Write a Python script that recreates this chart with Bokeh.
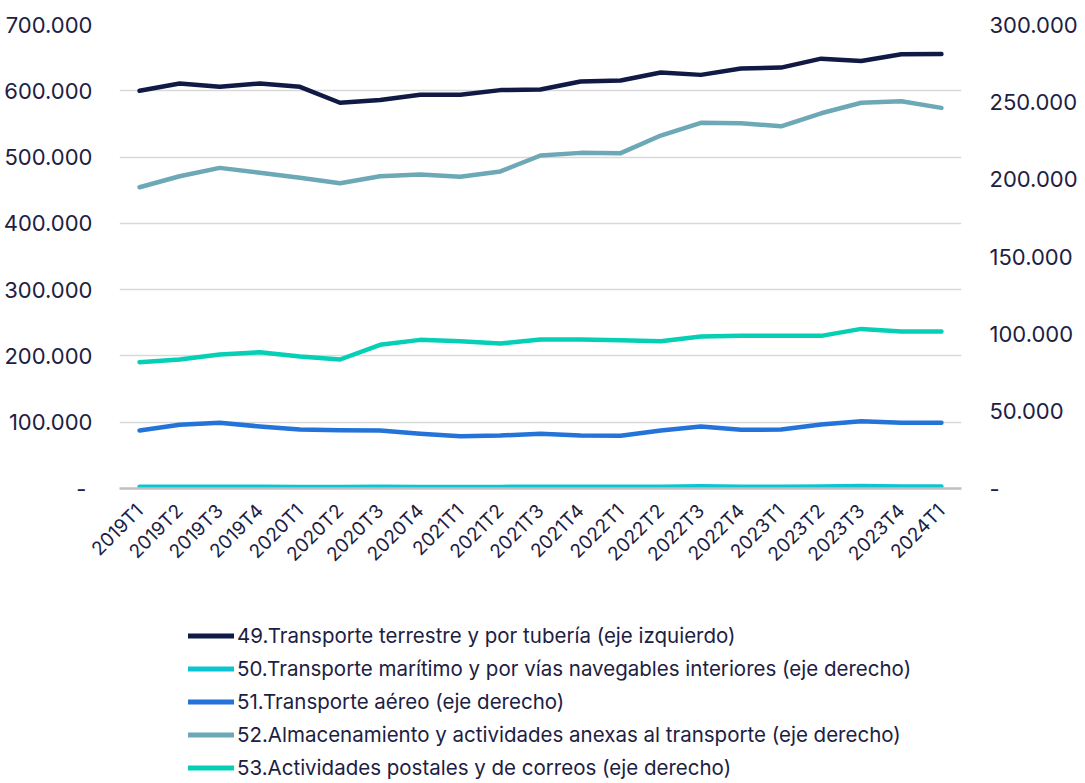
import math
from bokeh.plotting import figure
from bokeh.layouts import column
from bokeh.models import (Range1d, LinearAxis, FactorRange, FixedTicker, Legend, LegendItem, ColumnDataSource)
from bokeh.embed import file_html
from bokeh.resources import INLINE

quarters = ["2019T1", "2019T2", "2019T3", "2019T4", "2020T1", "2020T2", "2020T3", "2020T4",
            "2021T1", "2021T2", "2021T3", "2021T4", "2022T1", "2022T2", "2022T3", "2022T4",
            "2023T1", "2023T2", "2023T3", "2023T4", "2024T1"]

# 49 - left axis
s49 = [600000, 611000, 606000, 611000, 606000, 582000, 586000, 594000, 594000, 601000, 602000,
       614000, 615500, 627500, 624000, 633500, 635000, 648500, 645000, 655000, 655500]
# 50 - right axis
s50 = [1200, 1150, 1150, 1100, 1000, 900, 1100, 1000, 950, 1050, 1100, 1150, 1150, 1200, 1500,
       1200, 1200, 1250, 1550, 1250, 1250]
# 51 - right axis
s51 = [37500, 41200, 42500, 40100, 38100, 37700, 37500, 35400, 33800, 34300, 35400, 34300,
       34100, 37500, 40100, 38000, 38100, 41400, 43500, 42500, 42500]
# 52 - right axis
s52 = [194800, 201900, 207300, 204100, 200900, 197400, 201900, 203000, 201500, 205000, 215300,
       217000, 216800, 228200, 236400, 236200, 234200, 242600, 249400, 250400, 246100]
# 53 - right axis
s53 = [81700, 83400, 86600, 88100, 85300, 83400, 92900, 96100, 95200, 93700, 96300, 96400,
       95900, 95200, 98300, 98700, 98700, 98700, 103200, 101500, 101500]

names = ["49.Transporte terrestre y por tubería (eje izquierdo)",
         "50.Transporte marítimo y por vías navegables interiores (eje derecho)",
         "51.Transporte aéreo (eje derecho)",
         "52.Almacenamiento y actividades anexas al transporte (eje derecho)",
         "53.Actividades postales y de correos (eje derecho)"]
colors = ["#111a44", "#0bc5d2", "#2373d9", "#6ca8b5", "#05cfb5"]

left_ticks = [0, 100000, 200000, 300000, 400000, 500000, 600000, 700000]
right_ticks = [0, 50000, 100000, 150000, 200000, 250000, 300000]

def fmt(v):
    if v == 0:
        return "-"
    return f"{v:,}".replace(",", ".")

FONT = "Inter"
TXT = "#1c2143"
W = 1080

p = figure(width=W, height=600, x_range=FactorRange(*quarters, range_padding=0),
           y_range=Range1d(0, 700000), output_backend="svg", toolbar_location=None,
           min_border_left=118, min_border_right=107, min_border_top=24, min_border_bottom=112)
p.extra_y_ranges = {"right": Range1d(0, 300000)}
p.outline_line_color = None
p.background_fill_color = "white"
p.border_fill_color = "white"

# left axis
ya = p.yaxis[0]
ya.ticker = FixedTicker(ticks=left_ticks)
ya.major_label_overrides = {t: (fmt(t) if t else "-\u00a0") for t in left_ticks}
ya.axis_line_color = None
ya.major_tick_line_color = None
ya.minor_tick_line_color = None
ya.major_label_standoff = 21
ya.major_label_text_font = FONT
ya.major_label_text_font_size = "22px"
ya.major_label_text_color = TXT

ra = LinearAxis(y_range_name="right", ticker=FixedTicker(ticks=right_ticks))
ra.major_label_overrides = {t: fmt(t) for t in right_ticks}
ra.axis_line_color = None
ra.major_tick_line_color = None
ra.minor_tick_line_color = None
ra.major_label_standoff = 22
ra.major_label_text_font = FONT
ra.major_label_text_font_size = "22px"
ra.major_label_text_color = TXT
p.add_layout(ra, "right")

xa = p.xaxis[0]
xa.major_label_orientation = math.pi / 4
xa.axis_line_color = "#bfbfbf"
xa.axis_line_width = 2.5
xa.major_tick_line_color = None
xa.minor_tick_line_color = None
xa.major_label_standoff = 13
xa.major_label_text_font = FONT
xa.major_label_text_font_size = "19px"
xa.major_label_text_color = TXT

p.xgrid.grid_line_color = None
p.ygrid.grid_line_color = "#d9d9d9"
p.ygrid.grid_line_width = 1.5
p.ygrid.ticker = FixedTicker(ticks=left_ticks[1:])

series = [s49, s50, s51, s52, s53]
ranges = ["default", "right", "right", "right", "right"]
for s, c, rn in zip(series, colors, ranges):
    src = ColumnDataSource(dict(x=quarters, y=s))
    p.line("x", "y", source=src, line_color=c, line_width=4.5, line_cap="round",
           line_join="round", y_range_name=rn)

# legend panel (separate figure under the chart; its renderers are hidden, only the legend shows)
lg = figure(width=W, height=180, x_range=FactorRange(*quarters), y_range=Range1d(0, 1),
            output_backend="svg", toolbar_location=None, min_border=0,
            x_axis_location=None, y_axis_location=None)
lg.outline_line_color = None
lg.grid.visible = False
lrs = []
for s, c in zip(series, colors):
    src = ColumnDataSource(dict(x=quarters, y=s))
    r = lg.line("x", "y", source=src, line_color=c, line_width=5, line_cap="round")
    r.visible = False
    lrs.append(r)

items = [LegendItem(label=n, renderers=[r]) for n, r in zip(names, lrs)]
legend = Legend(items=items, location=(69, -4), orientation="vertical",
                background_fill_alpha=0, border_line_alpha=0,
                label_text_font=FONT, label_text_font_size="20.5px", label_text_color=TXT,
                glyph_width=46, glyph_height=33, label_height=33, spacing=0, padding=0,
                margin=0, label_standoff=3)
lg.add_layout(legend, "center")

layout = column(p, lg, spacing=0)
open("out.html", "w").write(file_html(layout, INLINE))
